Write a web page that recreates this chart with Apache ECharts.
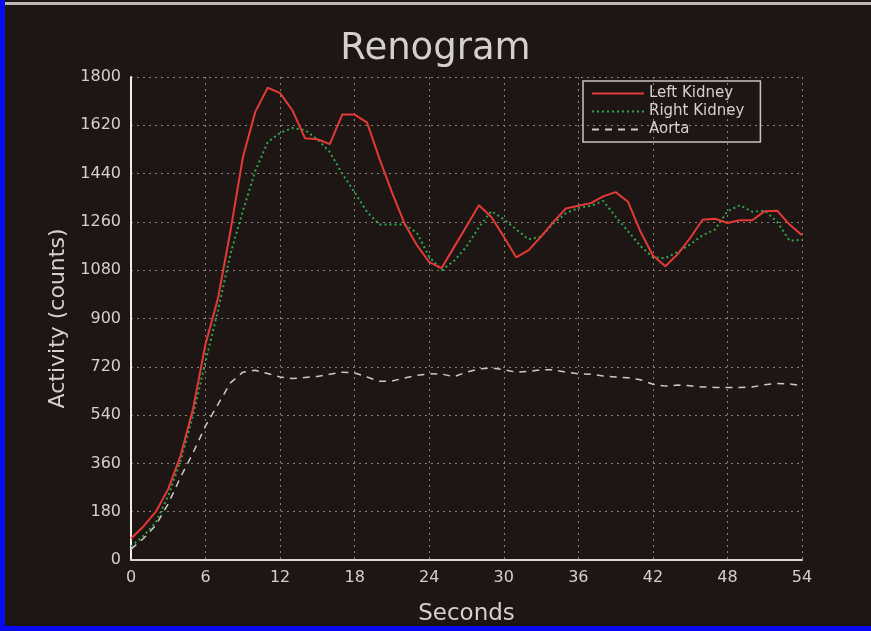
<!DOCTYPE html>
<html>
<head>
<meta charset="utf-8">
<script src="https://cdn.jsdelivr.net/npm/echarts@6/dist/echarts.min.js"></script>
<style>
  html, body { margin: 0; padding: 0; }
  #wrap { position: relative; width: 871px; height: 631px; background: #1e1615; overflow: hidden; }
  #chart { position: absolute; left: 0; top: 0; width: 871px; height: 631px; }
  .bl { position: absolute; left: 0; top: 0; width: 5px; height: 631px; background: #0a0af0; }
  .bb { position: absolute; left: 0; top: 626px; width: 871px; height: 5px; background: #0a0af0; }
  .bt { position: absolute; left: 5px; top: 2px; width: 866px; height: 3px; background: #bdb8b4; }
</style>
</head>
<body>
<div id="wrap">
  <div class="bt"></div>
  <div id="chart"></div>
  <div class="bl"></div>
  <div class="bb"></div>
</div>
<script>
// Time in seconds (one sample per second)
const seconds = Array.from({length: 55}, (_, i) => i);
const leftKidney = [80,125,180,265,390,565,805,975,1225,1500,1670,1760,1740,1675,1572,1568,1550,1660,1660,1630,1495,1370,1255,1174,1110,1088,1166,1244,1322,1278,1205,1128,1155,1205,1260,1310,1320,1330,1355,1371,1335,1224,1135,1095,1140,1200,1268,1272,1256,1266,1266,1300,1302,1250,1210];
const rightKidney = [50,90,140,240,370,540,740,930,1140,1300,1450,1557,1592,1610,1602,1568,1520,1440,1370,1297,1250,1250,1250,1220,1130,1080,1115,1168,1240,1300,1270,1232,1195,1205,1255,1292,1312,1320,1338,1280,1225,1170,1128,1125,1148,1176,1210,1232,1300,1322,1298,1302,1260,1190,1193];
const aorta = [40,80,130,210,310,400,500,580,660,700,707,695,682,676,680,684,692,700,697,682,666,667,678,688,694,693,683,700,712,716,709,700,703,709,709,700,694,692,686,682,679,672,655,648,652,649,645,643,643,643,645,653,658,656,650];
const xTicks = [0,6,12,18,24,30,36,42,48,54];
const yTicks = [0,180,360,540,720,900,1080,1260,1440,1620,1800];

const pair = (arr) => seconds.map((s, i) => [s, arr[i]]);
const font = 'DejaVu Sans';
const chart = echarts.init(document.getElementById('chart'));
chart.setOption({
  backgroundColor: 'transparent',
  animation: false,
  title: {
    text: 'Renogram', left: 'center', top: 26,
    textStyle: { color: '#d4d0cc', fontSize: 37, fontWeight: 'normal', fontFamily: font }
  },
  legend: {
    orient: 'vertical', left: 583, top: 81,
    padding: [5, 16, 5, 8], itemGap: 3, itemWidth: 52, itemHeight: 15,
    borderColor: '#c8c4c0', borderWidth: 1.5,
    itemStyle: { opacity: 0 },
    textStyle: { color: '#d4d0cc', fontSize: 15, fontFamily: font },
    data: ['Left Kidney', 'Right Kidney', 'Aorta']
  },
  grid: { left: 131, right: 69, top: 77, bottom: 66 },
  xAxis: {
    type: 'value', min: xTicks[0], max: xTicks[xTicks.length - 1], interval: 6,
    name: 'Seconds', nameLocation: 'middle', nameGap: 43,
    nameTextStyle: { color: '#d4d0cc', fontSize: 23, fontFamily: font },
    axisLine: { show: true, lineStyle: { color: '#d8d4d0', width: 2 } },
    axisTick: { show: false },
    axisLabel: { color: '#d4d0cc', fontSize: 16, fontFamily: font, margin: 10 },
    splitLine: { show: true, lineStyle: { color: '#8a807a', width: 1, type: [2, 4] } }
  },
  yAxis: {
    type: 'value', min: yTicks[0], max: yTicks[yTicks.length - 1], interval: 180,
    name: 'Activity (counts)', nameLocation: 'middle', nameGap: 60,
    nameTextStyle: { color: '#d4d0cc', fontSize: 22, fontFamily: font },
    axisLine: { show: true, lineStyle: { color: '#f0ece8', width: 2 } },
    axisTick: { show: false },
    axisLabel: { color: '#d4d0cc', fontSize: 16, fontFamily: font, margin: 10, formatter: (v) => String(v) },
    splitLine: { show: true, lineStyle: { color: '#8a807a', width: 1, type: [2, 4] } }
  },
  series: [
    { name: 'Left Kidney', type: 'line', data: pair(leftKidney), symbol: 'none',
      lineStyle: { color: '#e23a36', width: 2 }, itemStyle: { color: '#e23a36' }, z: 4 },
    { name: 'Right Kidney', type: 'line', data: pair(rightKidney), symbol: 'none',
      lineStyle: { color: '#2fa84a', width: 2, type: [2, 3] }, itemStyle: { color: '#2fa84a' }, z: 3 },
    { name: 'Aorta', type: 'line', data: pair(aorta), symbol: 'none',
      lineStyle: { color: '#cfc8c2', width: 1.5, type: [7, 6] }, itemStyle: { color: '#cfc8c2' }, z: 2 }
  ]
});
</script>
</body>
</html>
